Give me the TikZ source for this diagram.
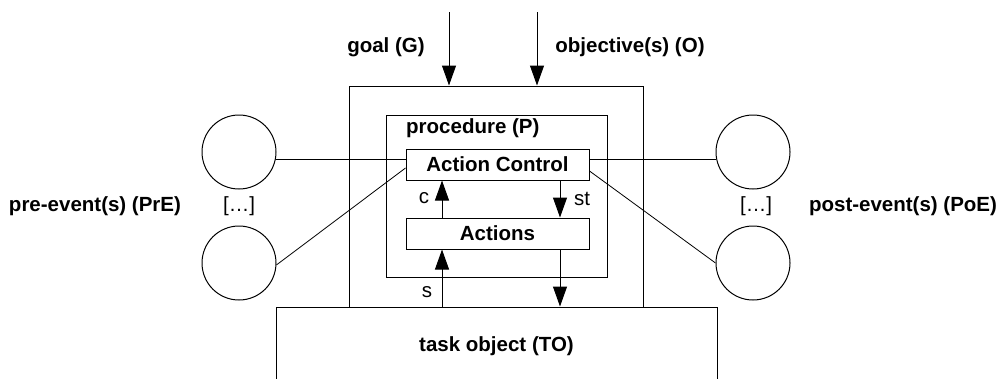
\documentclass[tikz,border=0pt]{standalone}
\usepackage{fontspec}
\setmainfont{Liberation Sans}
\usetikzlibrary{arrows.meta}
\begin{document}
\begin{tikzpicture}[x=1pt,y=-1pt,
  lbl/.style={font=\fontsize{20.5}{24}\selectfont\bfseries, inner sep=0},
  plain/.style={font=\fontsize{20.5}{24}\selectfont, inner sep=0},
  box/.style={draw, line width=1pt, inner sep=0, anchor=center},
  evt/.style={draw, circle, line width=1pt, minimum size=74pt, inner sep=0},
  flow/.style={line width=1pt, -{Triangle[length=20pt,width=14pt]}},
  link/.style={line width=0.8pt}]
\useasboundingbox (0,0) rectangle (1000,378);

% task object, open towards the bottom edge
\node[box, lbl, minimum width=441pt, minimum height=78pt] (task) at (496.5,346) {task object (TO)};

% nested boxes
\node[box, minimum width=294pt, minimum height=221pt] (outer) at (496,196.5) {};
\node[box, minimum width=221pt, minimum height=162pt] (proc) at (496.5,196) {};
\node[lbl, anchor=west] (proclbl) at (406,128) {procedure (P)};
\node[box, lbl, minimum width=183pt, minimum height=31pt] (ac) at (497.5,164.5) {Action Control};
\node[box, lbl, minimum width=183pt, minimum height=31pt] (actions) at (497.5,233.5) {Actions};

% inputs from above
\coordinate (g0) at (449,12);
\coordinate (o0) at (537,12);
\draw[flow] (g0) -- (g0 |- outer.north);
\draw[flow] (o0) -- (o0 |- outer.north);
\node[lbl] (goal) at (386,47) {goal (G)};
\node[lbl] (obj) at (630,47) {objective(s) (O)};

% control / state / sensing flows
\coordinate (cx) at (442,0);
\coordinate (sx) at (560,0);
\draw[flow] (cx |- actions.north) -- (cx |- ac.south);
\draw[flow] (sx |- ac.south) -- (sx |- actions.north);
\draw[flow] (cx |- task.north) -- (cx |- actions.south);
\draw[flow] (sx |- actions.south) -- (sx |- task.north);
\node[plain] (clbl) at (424,198) {c};
\node[plain] (stlbl) at (582,199) {st};
\node[plain] (slbl) at (427,292) {s};

% pre-events
\node[evt] (pre1) at (239,152) {};
\node[evt] (pre2) at (239,263) {};
\node[plain] (predots) at (239,206) {[…]};
\node[lbl] (prelbl) at (95,206) {pre-event(s) (PrE)};
\draw[link] (pre1.-12.5) -- (pre1.-12.5 -| ac.west);
\draw[link] (pre2.-3) -- ([yshift=-3.5pt]ac.west);

% post-events
\node[evt] (post1) at (753,152) {};
\node[evt] (post2) at (753,263) {};
\node[plain] (postdots) at (756,206) {[…]};
\node[lbl] (postlbl) at (903,206) {post-event(s) (PoE)};
\draw[link] (post1.192.5) -- (post1.192.5 -| ac.east);
\draw[link] ([yshift=-6.5pt]ac.east) -- (post2.west);
\end{tikzpicture}
\end{document}
